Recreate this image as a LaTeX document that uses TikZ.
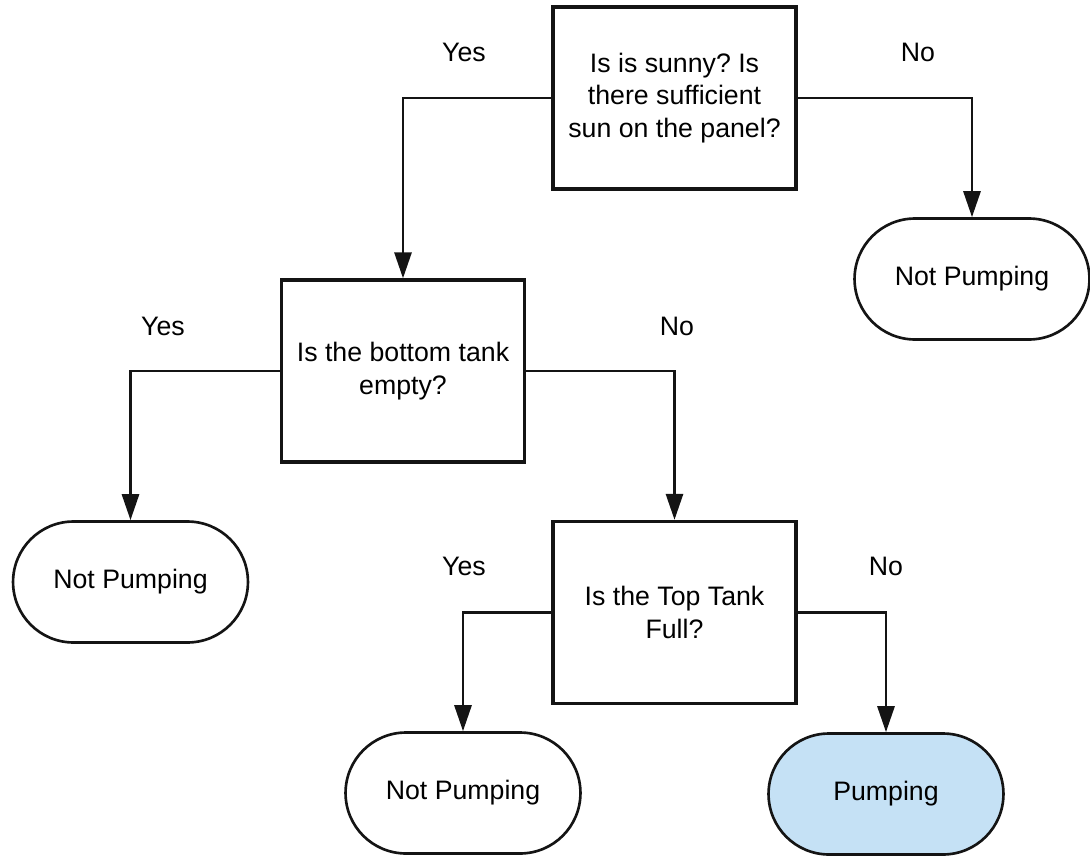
\documentclass[tikz,border=0pt]{standalone}
\usepackage{fontspec}
\setmainfont{Liberation Sans}
\usepackage{xcolor}
\definecolor{pumpblue}{RGB}{197,225,245}
\definecolor{linegray}{RGB}{20,20,20}
\usepackage{tikz}
\usetikzlibrary{positioning,shapes.misc,arrows.meta}
\frenchspacing
\tikzset{
  qbox/.style={rectangle,draw=linegray,line width=1.9pt,fill=white,
    align=center,font=\fontsize{15.2}{18.6}\selectfont,
    minimum width=4.86cm,minimum height=3.64cm,inner sep=2pt},
  endbox/.style={rounded rectangle,draw=linegray,line width=1.5pt,fill=white,
    align=center,font=\fontsize{15.2}{18.6}\selectfont,
    minimum width=4.84cm,minimum height=2.42cm,inner sep=2pt},
  lab/.style={font=\fontsize{15.2}{18.6}\selectfont,inner sep=0pt},
  fl/.style={-{Triangle[length=5.2mm,width=3.4mm]},draw=linegray,line width=1.6pt},
}
\begin{document}
\begin{tikzpicture}[x=0.02cm,y=-0.02cm]
  \useasboundingbox (0,0) rectangle (1090,856);
  % --- Preguntas ---
  \node[qbox] (SUN) at (674.5,98) {Is is sunny? Is\\there sufficient\\sun on the panel?};
  \node[qbox] (BOT) at (403,371) {Is the bottom tank\\empty?};
  \node[qbox] (TOP) at (674.5,612.5) {Is the Top Tank\\Full?};
  % --- Resultados ---
  \node[endbox] (NP1) at (972,279) {Not Pumping};
  \node[endbox] (NP2) at (130.5,582) {Not Pumping};
  \node[endbox] (NP3) at (463,793) {Not Pumping};
  \node[endbox,fill=pumpblue] (PMP) at (886,794) {Pumping};
  % --- Etiquetas ---
  \node[lab] (y1) at (464,52) {Yes};
  \node[lab] (n1) at (918,52) {No};
  \node[lab] (y2) at (163,326) {Yes};
  \node[lab] (n2) at (677,326) {No};
  \node[lab] (y3) at (464,566) {Yes};
  \node[lab] (n3) at (886,566) {No};
  % --- Flechas ---
  \draw[fl] (SUN.west) -| (BOT.north);
  \draw[fl] (SUN.east) -| (NP1.north);
  \draw[fl] (BOT.west) -| (NP2.north);
  \draw[fl] (BOT.east) -| (TOP.north);
  \draw[fl] (TOP.west) -| (NP3.north);
  \draw[fl] (TOP.east) -| (PMP.north);
\end{tikzpicture}
\end{document}
